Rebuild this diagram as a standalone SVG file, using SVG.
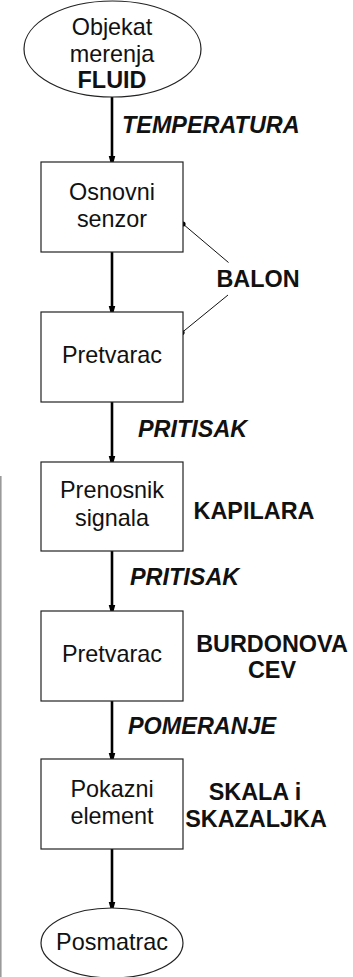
<svg xmlns="http://www.w3.org/2000/svg" width="353" height="977" viewBox="0 0 353 977">
  <style>
    .box { fill: #ffffff; stroke: #222222; stroke-width: 1.2; }
    .term { fill: #ffffff; stroke: #222222; stroke-width: 1.2; }
    .txt { font-family: "Liberation Sans", Arial, sans-serif; font-size: 23.4px; fill: #111111; text-anchor: middle; }
    .bold { font-weight: bold; }
    .sig { font-family: "Liberation Sans", Arial, sans-serif; font-size: 23.4px; font-weight: bold; font-style: italic; fill: #111111; }
    .flow { stroke: #000000; stroke-width: 2.6; fill: none; marker-end: url(#head); }
    .lead { stroke: #111111; stroke-width: 1; fill: none; }
  </style>
  <defs>
    <marker id="head" markerUnits="userSpaceOnUse" markerWidth="12" markerHeight="22" refX="11" refY="6" orient="auto" viewBox="0 0 22 12">
      <path d="M0,0 L22,6 L0,12 Z" fill="#000000"/>
    </marker>
  </defs>

  <!-- frame edge on the left -->
  <line x1="0.8" y1="476" x2="0.8" y2="977" stroke="#9a9a9a" stroke-width="1.6"/>

  <g id="connectors">
    <line class="flow" x1="112" y1="97" x2="112" y2="162"/>
    <line class="flow" x1="112" y1="252" x2="112" y2="312"/>
    <line class="flow" x1="112" y1="402" x2="112" y2="462"/>
    <line class="flow" x1="112" y1="551" x2="112" y2="611"/>
    <line class="flow" x1="112" y1="701" x2="112" y2="759"/>
    <line class="flow" x1="112" y1="849" x2="112" y2="908"/>
    <!-- BALON leaders -->
    <line class="lead" x1="183" y1="224" x2="228.5" y2="262.5"/>
    <line class="lead" x1="228" y1="295" x2="182" y2="332.5"/>
    <circle cx="183" cy="224" r="2.6" fill="#000000"/>
    <circle cx="182" cy="332.5" r="2.6" fill="#000000"/>
  </g>

  <g id="objekat">
    <ellipse class="term" cx="112.5" cy="49" rx="88.5" ry="48"/>
    <text class="txt" x="112" y="35">Objekat</text>
    <text class="txt" x="112" y="62">merenja</text>
    <text class="txt bold" x="112" y="88">FLUID</text>
  </g>

  <g id="osnovni-senzor">
    <rect class="box" x="41" y="162" width="142" height="90"/>
    <text class="txt" x="112" y="200">Osnovni</text>
    <text class="txt" x="112" y="227">senzor</text>
  </g>

  <g id="pretvarac-1">
    <rect class="box" x="41" y="312" width="142" height="90"/>
    <text class="txt" x="112" y="363">Pretvarac</text>
  </g>

  <g id="prenosnik-signala">
    <rect class="box" x="41" y="462" width="142" height="89"/>
    <text class="txt" x="112" y="498">Prenosnik</text>
    <text class="txt" x="112" y="526">signala</text>
  </g>

  <g id="pretvarac-2">
    <rect class="box" x="41" y="611" width="142" height="90"/>
    <text class="txt" x="112" y="662">Pretvarac</text>
  </g>

  <g id="pokazni-element">
    <rect class="box" x="41" y="759" width="142" height="90"/>
    <text class="txt" x="112" y="797">Pokazni</text>
    <text class="txt" x="112" y="824">element</text>
  </g>

  <g id="posmatrac">
    <ellipse class="term" cx="112" cy="943" rx="71" ry="35"/>
    <text class="txt" x="112" y="950">Posmatrac</text>
  </g>

  <g id="labels">
    <text class="sig" x="122" y="133">TEMPERATURA</text>
    <text class="txt bold" x="258" y="287">BALON</text>
    <text class="sig" x="138" y="437">PRITISAK</text>
    <text class="txt bold" x="254" y="519">KAPILARA</text>
    <text class="sig" x="130" y="585">PRITISAK</text>
    <text class="txt bold" x="272" y="652">BURDONOVA</text>
    <text class="txt bold" x="272" y="678">CEV</text>
    <text class="sig" x="128" y="734">POMERANJE</text>
    <text class="txt bold" x="255" y="800">SKALA i</text>
    <text class="txt bold" x="256" y="827">SKAZALJKA</text>
  </g>
</svg>
